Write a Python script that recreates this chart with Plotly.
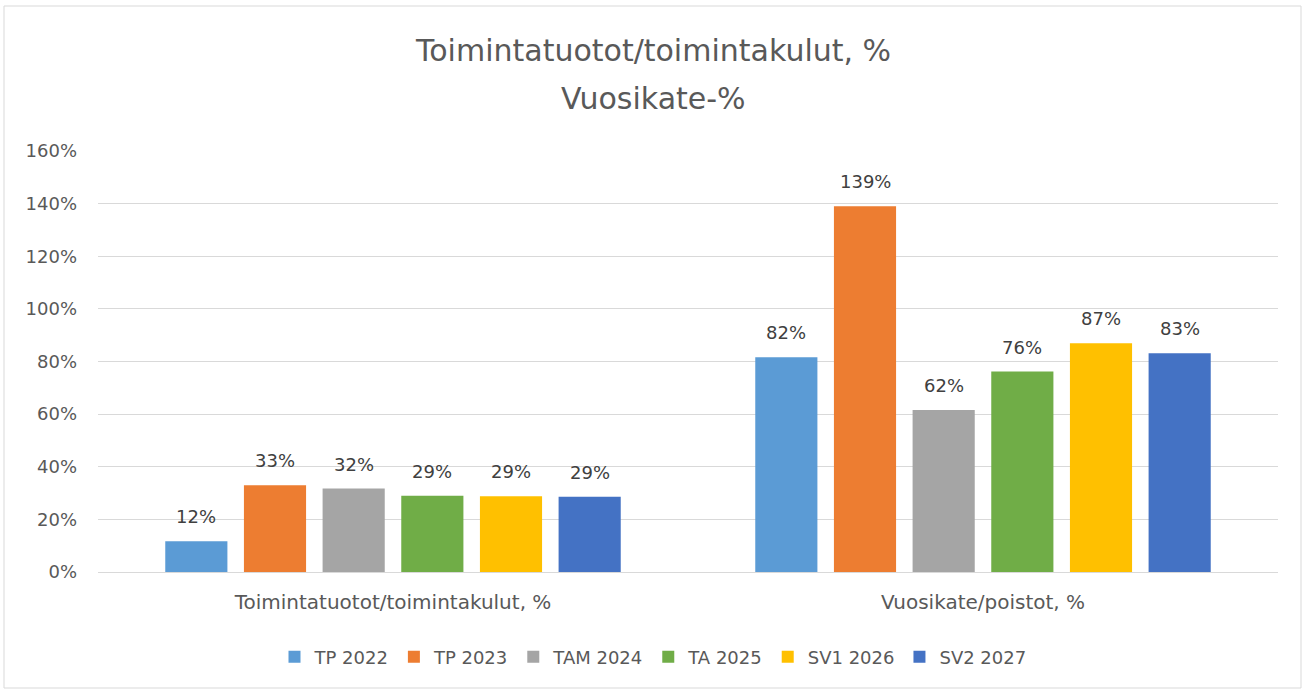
import plotly.graph_objects as go

categories = ["Toimintatuotot/toimintakulut, %", "Vuosikate/poistot, %"]
series_names = ["TP 2022", "TP 2023", "TAM 2024", "TA 2025", "SV1 2026", "SV2 2027"]
tp2022 = [0.117, 0.816]
tp2023 = [0.330, 1.390]
tam2024 = [0.317, 0.616]
ta2025 = [0.290, 0.762]
sv12026 = [0.288, 0.869]
sv22027 = [0.286, 0.831]
series_values = [tp2022, tp2023, tam2024, ta2025, sv12026, sv22027]
colors = ["#5B9BD5", "#ED7D31", "#A5A5A5", "#70AD47", "#FFC000", "#4472C4"]
y_tick_vals = [0, 0.2, 0.4, 0.6, 0.8, 1.0, 1.2, 1.4, 1.6]

FONT = "DejaVu Sans"
W, H = 1306, 691
ML, MR, MT, MB = 98, 28, 151, 119
BARGAP = 0.2
pw = W - ML - MR
ph = H - MT - MB

fig = go.Figure()
for name, vals, col in zip(series_names, series_values, colors):
    fig.add_trace(go.Bar(
        name=name, x=list(range(len(categories))), y=vals,
        marker=dict(color=col, line=dict(width=0)),
        hoverinfo="name+y",
    ))

# data labels above bars
n = len(series_names)
ann = []
for j, vals in enumerate(series_values):
    for i, v in enumerate(vals):
        xpos = i + ((j + 0.5) / n - 0.5) * (1 - BARGAP)
        ann.append(dict(
            x=xpos, y=v, xref="x", yref="y", text=f"{round(v*100):.0f}%",
            showarrow=False, yanchor="bottom", yshift=12,
            font=dict(family=FONT, size=18, color="#404040"),
        ))

# title lines (paper coords of the plot area, converted from figure pixels)
for txt, ypix in [("Toimintatuotot/toimintakulut, %", 50), ("Vuosikate-%", 98)]:
    ann.append(dict(x=(W / 2 - ML) / pw, y=(H - MB - ypix) / ph, xref="paper", yref="paper",
                    text=txt, showarrow=False, xanchor="center", yanchor="middle",
                    font=dict(family=FONT, size=30, color="#595959")))

fig.update_layout(
    width=W, height=H,
    margin=dict(l=ML, r=MR, t=MT, b=MB),
    paper_bgcolor="white", plot_bgcolor="white",
    barmode="group", bargap=BARGAP, bargroupgap=0.21,
    annotations=ann,
    font=dict(family=FONT, color="#595959"),
    legend=dict(orientation="h", xref="container", x=0.5, xanchor="center",
                yref="container", y=(H - 657) / H, yanchor="middle",
                font=dict(family=FONT, size=18, color="#595959"),
                itemwidth=30, traceorder="normal"),
    showlegend=True,
)
fig.update_xaxes(
    tickmode="array", tickvals=list(range(len(categories))), ticktext=categories,
    range=[-0.5, len(categories) - 0.5],
    showgrid=False, zeroline=False, showline=False, ticks="",
    tickfont=dict(family=FONT, size=20, color="#595959"),
    ticklabelstandoff=16,
)
fig.update_yaxes(
    range=[0, 1.6], tickvals=y_tick_vals, tickformat=".0%",
    showgrid=True, gridcolor="#D9D9D9", gridwidth=1,
    zeroline=True, zerolinecolor="#D9D9D9", zerolinewidth=1,
    showline=False, ticks="",
    tickfont=dict(family=FONT, size=18, color="#595959"),
    ticklabelstandoff=20,
)
# outer chart border
fig.add_shape(type="rect", xref="paper", yref="paper",
              x0=(4 - ML) / pw, x1=(1301 - ML) / pw,
              y0=(H - MB - 688) / ph, y1=(H - MB - 6) / ph,
              line=dict(color="#D9D9D9", width=1), fillcolor="rgba(0,0,0,0)", layer="below")

fig.write_html("out.html", config={"displayModeBar": False},
               post_script="document.body.style.margin='0';document.body.style.overflow='hidden';")
